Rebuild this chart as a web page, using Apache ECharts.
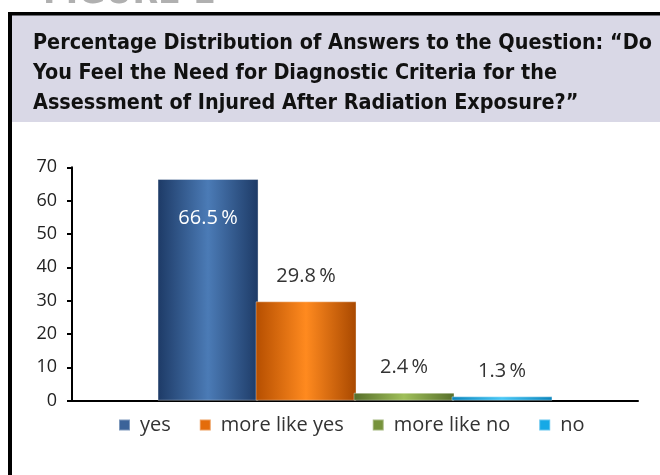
<!DOCTYPE html>
<html>
<head>
<meta charset="utf-8">
<script src="https://cdn.jsdelivr.net/npm/echarts@6/dist/echarts.min.js"></script>
<style>
html,body{margin:0;padding:0;background:#fff;}
#chart{width:660px;height:475px;}
</style>
</head>
<body>
<div id="chart"></div>
<script>
const figureLabel = 'FIGURE 1';
const titleLines = [
  'Percentage Distribution of Answers to the Question: \u201cDo',
  'You Feel the Need for Diagnostic Criteria for the',
  'Assessment of Injured After Radiation Exposure?\u201d'
];
const categories = [''];
const seriesNames = ['yes', 'more like yes', 'more like no', 'no'];
const seriesValues = [66.5, 29.8, 2.4, 1.3];
const yTicks = [0, 10, 20, 30, 40, 50, 60, 70];

const solidColors = ['#3b6399', '#e46c0a', '#77933c', '#16a9e6'];
const gradStops = [
  ['#1d3a66', '#4b7bb6', '#1d3a66'],
  ['#b54e00', '#ff8a1f', '#a84800'],
  ['#566e2a', '#9fbf5a', '#566e2a'],
  ['#0a84bb', '#48c8f7', '#0a84bb']
];

const chart = echarts.init(document.getElementById('chart'), null, {renderer: 'canvas'});

const series = seriesNames.map((name, i) => ({
  name: name,
  type: 'bar',
  data: [seriesValues[i]],
  barWidth: 101,
  barGap: '-3%',
  itemStyle: {
    color: {
      type: 'linear', x: 0, y: 0, x2: 1, y2: 0,
      colorStops: [
        {offset: 0, color: gradStops[i][0]},
        {offset: 0.5, color: gradStops[i][1]},
        {offset: 1, color: gradStops[i][2]}
      ]
    },
    borderColor: 'rgba(255,255,255,0.35)',
    borderWidth: 1
  },
  label: {
    show: true,
    position: i === 0 ? 'insideTop' : 'top',
    distance: i === 0 ? 29 : 15,
    color: i === 0 ? '#ffffff' : '#333333',
    fontFamily: 'Open Sans',
    fontSize: 20,
    formatter: p => p.value + '\u2009%'
  }
}));

chart.setOption({
  animation: false,
  backgroundColor: '#ffffff',
  graphic: [
    {type: 'text', z: 0, x: 43, y: -7, style: {text: figureLabel, fill: '#b0b0b0',
      font: 'bold 37px "DejaVu Sans Condensed", sans-serif',
      verticalAlign: 'middle', align: 'left'}},
    {type: 'rect', z: 0, shape: {x: 12, y: 15, width: 660, height: 107}, style: {fill: '#d9d8e6'}},
    {type: 'rect', z: 1, shape: {x: 8, y: 12, width: 660, height: 3.5}, style: {fill: '#000'}},
    {type: 'rect', z: 1, shape: {x: 8, y: 12, width: 4, height: 470}, style: {fill: '#000'}}
  ],
  title: {
    text: titleLines.join('\n'),
    left: 28,
    top: 23,
    textStyle: {
      fontFamily: '"DejaVu Sans Condensed", sans-serif',
      fontWeight: 'bold',
      fontSize: 21.4,
      lineHeight: 30,
      color: '#111111'
    }
  },
  legend: {
    data: seriesNames.map((n, i) => ({name: n, itemStyle: {color: solidColors[i]}})),
    top: 410,
    left: 113,
    icon: 'rect',
    itemWidth: 11,
    itemHeight: 11,
    itemGap: 28,
    textStyle: {fontFamily: 'Open Sans', fontSize: 20, color: '#333333', padding: [0, 0, 0, 5]}
  },
  grid: {left: 72, right: 22, top: 167.3, bottom: 74.3, containLabel: false},
  xAxis: {
    type: 'category',
    data: categories,
    axisLine: {lineStyle: {color: '#000', width: 2}},
    axisTick: {show: false},
    axisLabel: {show: false}
  },
  yAxis: {
    type: 'value',
    min: yTicks[0],
    max: yTicks[yTicks.length - 1],
    interval: 10,
    axisLine: {show: true, lineStyle: {color: '#000', width: 2}},
    axisTick: {show: true, length: 5, lineStyle: {color: '#000', width: 2}},
    splitLine: {show: false},
    axisLabel: {fontFamily: 'Open Sans', fontSize: 18, color: '#222222', margin: 15}
  },
  series: series
});
</script>
</body>
</html>
